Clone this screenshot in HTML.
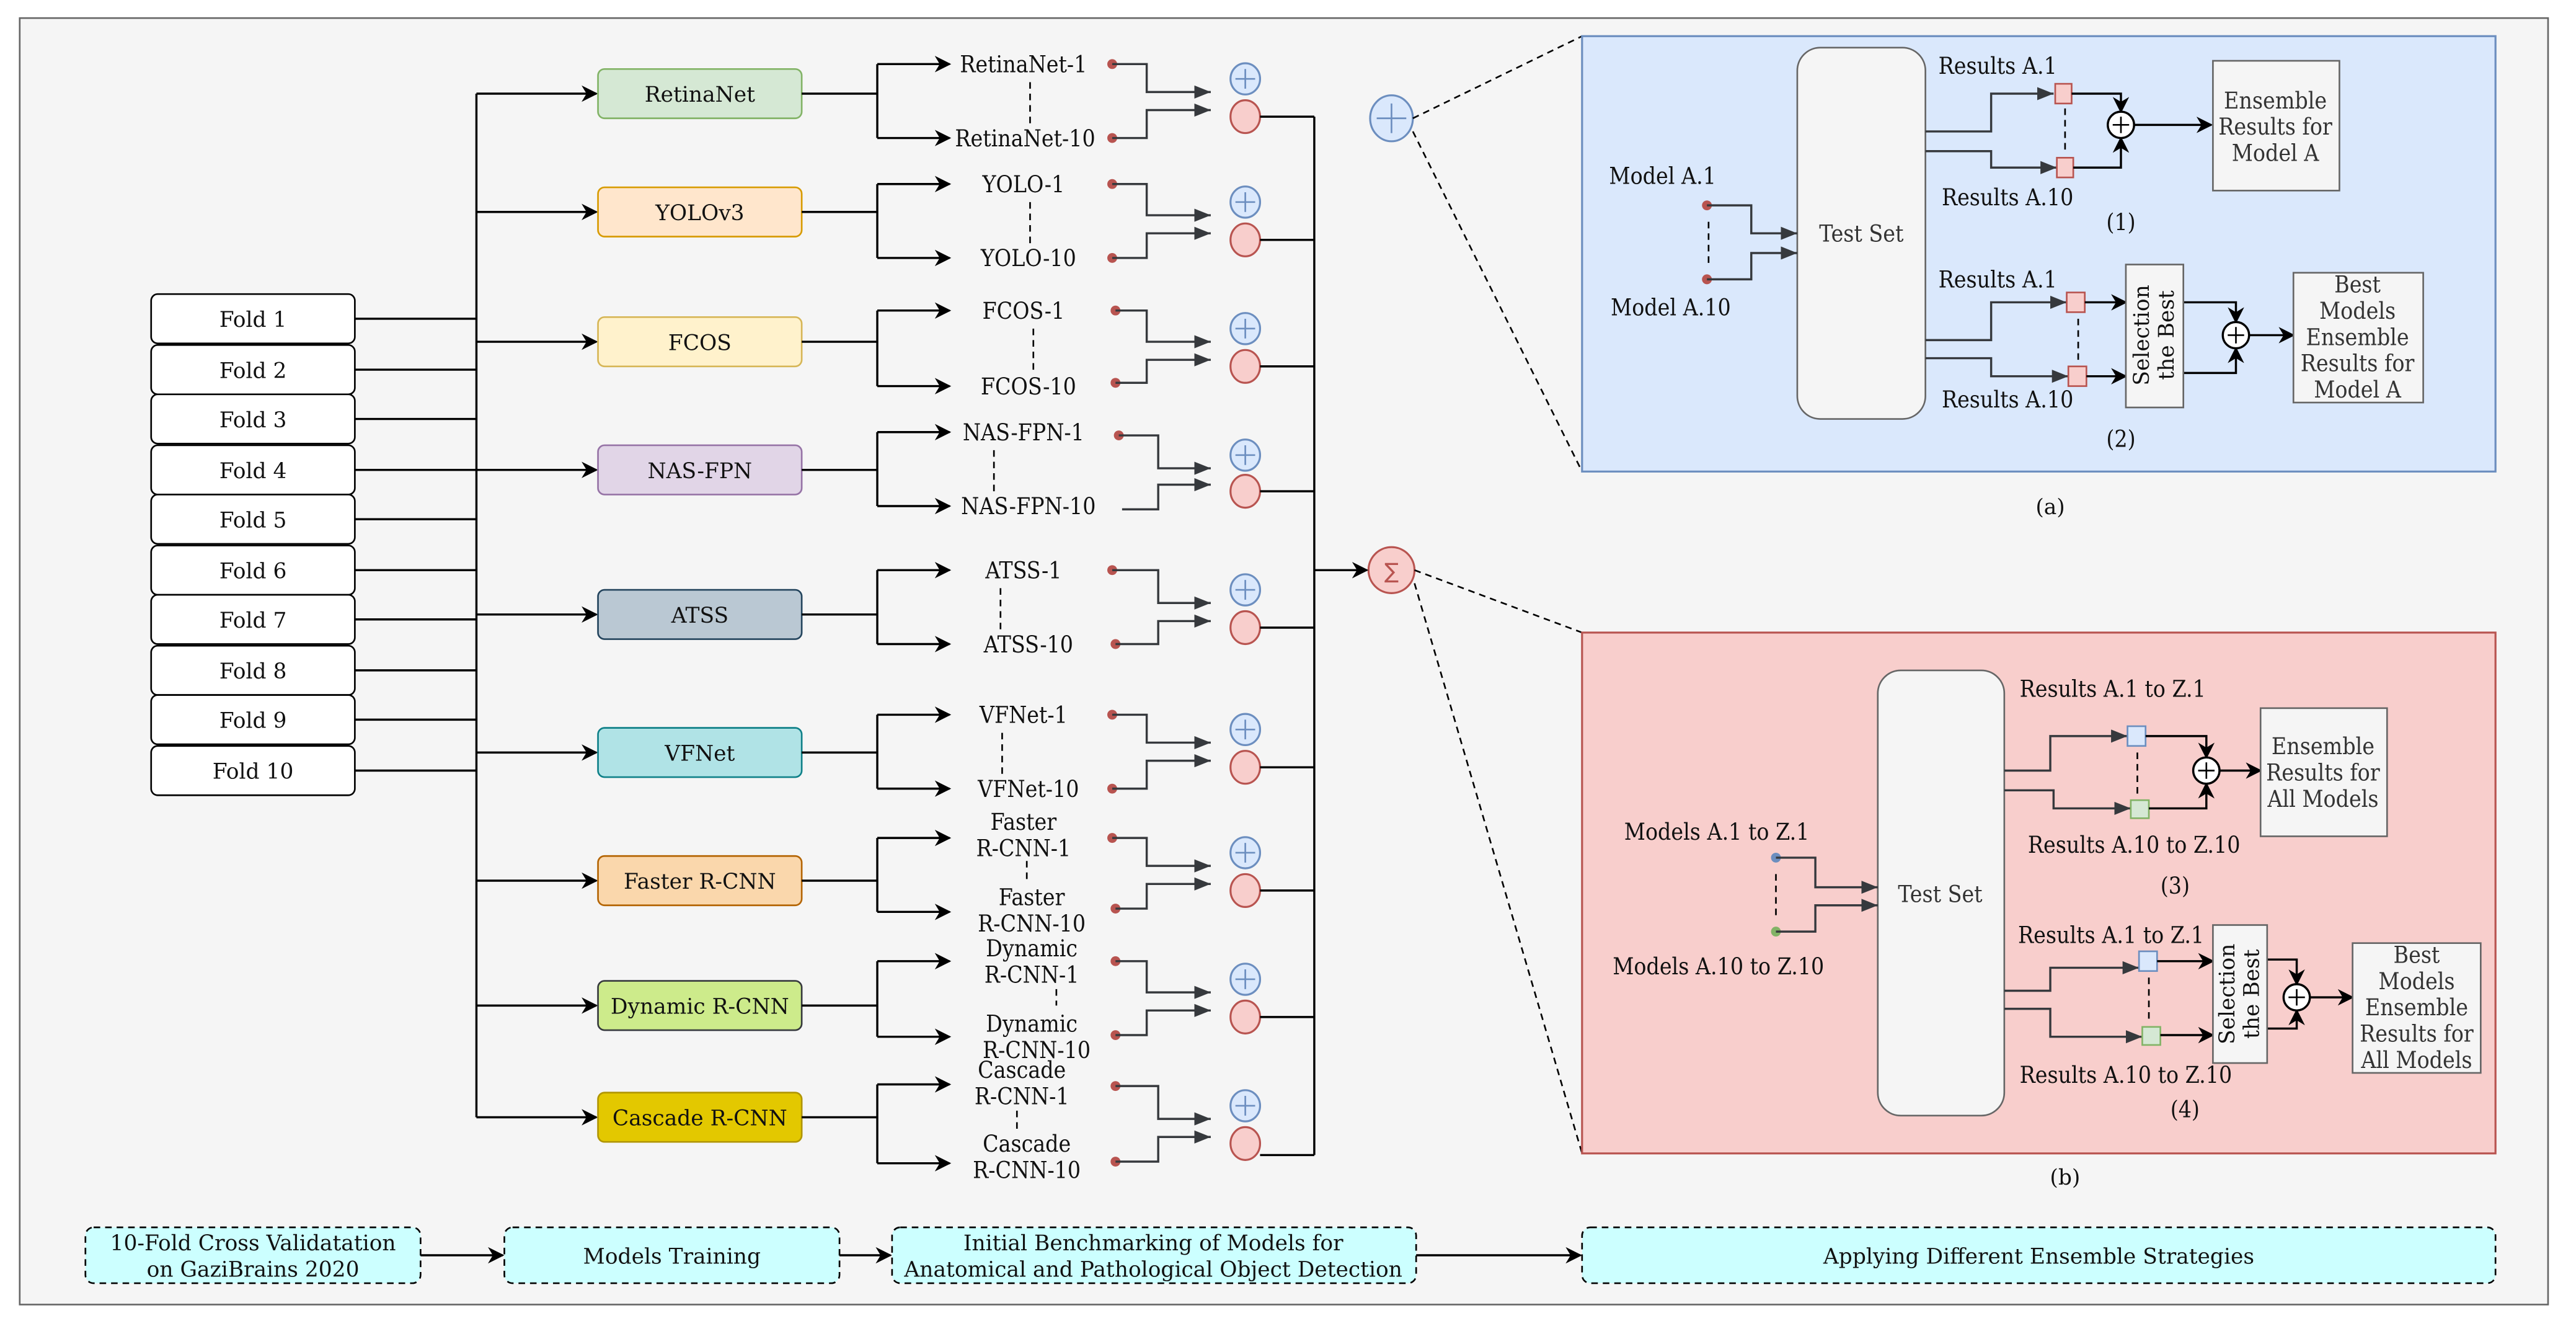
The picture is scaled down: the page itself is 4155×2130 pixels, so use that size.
<!DOCTYPE html>
<html><head><meta charset="utf-8"><style>
html,body{margin:0;padding:0;background:#fff;width:4155px;height:2130px;overflow:hidden}
svg{display:block}
.t{font-family:"DejaVu Serif","Liberation Serif",serif;font-size:14px;fill:#111;font-stretch:condensed;text-anchor:middle}
.n{font-size:13px;font-stretch:normal}
.s{font-family:"DejaVu Serif","Liberation Serif",serif;font-size:13px;fill:#111;text-anchor:middle}
.g{fill:#333}
.k{fill:none;stroke:#000;stroke-width:1.3}
.d{fill:none;stroke:#36393d;stroke-width:1.3}
.ds{fill:none;stroke:#000;stroke-width:1;stroke-dasharray:4 3}
</style></head><body>
<svg width="4155" height="2130" viewBox="0 0 1568 804" preserveAspectRatio="none" xmlns="http://www.w3.org/2000/svg">
<defs>
<marker id="ak" markerWidth="10" markerHeight="10" refX="9" refY="5" orient="auto" markerUnits="userSpaceOnUse"><path d="M0,0 L10,5 L0,10 L3,5z" fill="#000"/></marker>
<marker id="ad" markerWidth="10" markerHeight="8" refX="10" refY="4" orient="auto" markerUnits="userSpaceOnUse"><path d="M0,0 L10,4 L0,8z" fill="#36393d"/></marker>
</defs>
<rect x="12" y="11" width="1539" height="783" fill="#f5f5f5" stroke="#666"/>

<!-- folds -->
<g fill="#fff" stroke="#000" stroke-width="1">
<rect x="92" y="179" width="124" height="30" rx="4"/><rect x="92" y="210" width="124" height="30" rx="4"/>
<rect x="92" y="240" width="124" height="30" rx="4"/><rect x="92" y="271" width="124" height="30" rx="4"/>
<rect x="92" y="301" width="124" height="30" rx="4"/><rect x="92" y="332" width="124" height="30" rx="4"/>
<rect x="92" y="362" width="124" height="30" rx="4"/><rect x="92" y="393" width="124" height="30" rx="4"/>
<rect x="92" y="423" width="124" height="30" rx="4"/><rect x="92" y="454" width="124" height="30" rx="4"/>
</g>
<g class="t n">
<text x="154" y="199">Fold 1</text><text x="154" y="230">Fold 2</text><text x="154" y="260">Fold 3</text>
<text x="154" y="291">Fold 4</text><text x="154" y="321">Fold 5</text><text x="154" y="352">Fold 6</text>
<text x="154" y="382">Fold 7</text><text x="154" y="413">Fold 8</text><text x="154" y="443">Fold 9</text>
<text x="154" y="474">Fold 10</text>
</g>
<path class="k" d="M216,194H290M216,225H290M216,255H290M216,286H290M216,316H290M216,347H290M216,377H290M216,408H290M216,438H290M216,469H290M290,57V680"/>
<g class="k" marker-end="url(#ak)">
<path d="M290,57H363"/><path d="M290,129H363"/><path d="M290,208H363"/><path d="M290,286H363"/><path d="M290,374H363"/><path d="M290,458H363"/><path d="M290,536H363"/><path d="M290,612H363"/><path d="M290,680H363"/>
</g>

<!-- model boxes -->
<rect x="364" y="42" width="124" height="30" rx="4" fill="#d5e8d4" stroke="#82b366"/>
<rect x="364" y="114" width="124" height="30" rx="4" fill="#ffe6cc" stroke="#d79b00"/>
<rect x="364" y="193" width="124" height="30" rx="4" fill="#fff2cc" stroke="#d6b656"/>
<rect x="364" y="271" width="124" height="30" rx="4" fill="#e1d5e7" stroke="#9673a6"/>
<rect x="364" y="359" width="124" height="30" rx="4" fill="#bac8d3" stroke="#23445d"/>
<rect x="364" y="443" width="124" height="30" rx="4" fill="#b0e3e6" stroke="#0e8088"/>
<rect x="364" y="521" width="124" height="30" rx="4" fill="#fad7ac" stroke="#b46504"/>
<rect x="364" y="597" width="124" height="30" rx="4" fill="#cdeb8b" stroke="#36393d"/>
<rect x="364" y="665" width="124" height="30" rx="4" fill="#e3c800" stroke="#b09500"/>
<g class="s">
<text x="426" y="62">RetinaNet</text><text x="426" y="134">YOLOv3</text><text x="426" y="213">FCOS</text>
<text x="426" y="291">NAS-FPN</text><text x="426" y="379">ATSS</text><text x="426" y="463">VFNet</text>
<text x="426" y="541">Faster R-CNN</text><text x="426" y="617">Dynamic R-CNN</text><text x="426" y="685">Cascade R-CNN</text>
</g>

<!-- splits -->
<path class="k" d="M488,57H534M534,39V84M488,129H534M534,112V157M488,208H534M534,189V235M488,286H534M534,263V308M488,374H534M534,347V392M488,458H534M534,435V480M488,536H534M534,510V555M488,612H534M534,585V631M488,680H534M534,660V708"/>
<g class="k" marker-end="url(#ak)">
<path d="M534,39H578"/><path d="M534,84H578"/><path d="M534,112H578"/><path d="M534,157H578"/>
<path d="M534,189H578"/><path d="M534,235H578"/><path d="M534,263H578"/><path d="M534,308H578"/>
<path d="M534,347H578"/><path d="M534,392H578"/><path d="M534,435H578"/><path d="M534,480H578"/>
<path d="M534,510H578"/><path d="M534,555H578"/><path d="M534,585H578"/><path d="M534,631H578"/>
<path d="M534,660H578"/><path d="M534,708H578"/>
</g>
<g class="t">
<text x="623" y="44">RetinaNet-1</text><text x="624" y="89">RetinaNet-10</text>
<text x="623" y="117">YOLO-1</text><text x="626" y="162">YOLO-10</text>
<text x="623" y="194">FCOS-1</text><text x="626" y="240">FCOS-10</text>
<text x="623" y="268">NAS-FPN-1</text><text x="626" y="313">NAS-FPN-10</text>
<text x="623" y="352">ATSS-1</text><text x="626" y="397">ATSS-10</text>
<text x="623" y="440">VFNet-1</text><text x="626" y="485">VFNet-10</text>
<text x="623" y="505">Faster</text><text x="623" y="521">R-CNN-1</text>
<text x="628" y="551">Faster</text><text x="628" y="567">R-CNN-10</text>
<text x="628" y="582">Dynamic</text><text x="628" y="598">R-CNN-1</text>
<text x="628" y="628">Dynamic</text><text x="631" y="644">R-CNN-10</text>
<text x="622" y="656">Cascade</text><text x="622" y="672">R-CNN-1</text>
<text x="625" y="701">Cascade</text><text x="625" y="717">R-CNN-10</text>
</g>
<path class="ds" d="M627,50V75M627,123V148M629,200V226M605,274V299M609,358V383M610,446V471M625,524V536M643,602V612M619,676V690"/>

<!-- dots and connectors -->
<g fill="#b85450">
<circle cx="677" cy="39" r="3"/><circle cx="677" cy="84" r="3"/><circle cx="677" cy="112" r="3"/><circle cx="677" cy="157" r="3"/>
<circle cx="679" cy="189" r="3"/><circle cx="679" cy="233" r="3"/><circle cx="681" cy="265" r="3"/>
<circle cx="677" cy="347" r="3"/><circle cx="679" cy="392" r="3"/><circle cx="677" cy="435" r="3"/><circle cx="677" cy="480" r="3"/>
<circle cx="677" cy="510" r="3"/><circle cx="679" cy="553" r="3"/><circle cx="679" cy="585" r="3"/><circle cx="679" cy="630" r="3"/>
<circle cx="679" cy="661" r="3"/><circle cx="679" cy="707" r="3"/>
</g>
<g class="d" marker-end="url(#ad)">
<path d="M677,39H698V56H737"/><path d="M677,84H698V67H737"/>
<path d="M677,112H698V131H737"/><path d="M677,157H698V142H737"/>
<path d="M679,189H698V208H737"/><path d="M679,233H698V219H737"/>
<path d="M681,265H705V285H737"/><path d="M683,310H705V295H737"/>
<path d="M677,347H705V367H737"/><path d="M679,392H705V378H737"/>
<path d="M677,435H698V452H737"/><path d="M677,480H698V463H737"/>
<path d="M677,510H698V527H737"/><path d="M679,553H698V538H737"/>
<path d="M679,585H698V604H737"/><path d="M679,630H698V615H737"/>
<path d="M679,661H705V681H737"/><path d="M679,707H705V692H737"/>
</g>
<!-- circles -->
<g fill="#dae8fc" stroke="#6c8ebf" stroke-width="1.2">
<ellipse cx="758" cy="48" rx="9" ry="9.5"/><ellipse cx="758" cy="123" rx="9" ry="9.5"/><ellipse cx="758" cy="200" rx="9" ry="9.5"/>
<ellipse cx="758" cy="277" rx="9" ry="9.5"/><ellipse cx="758" cy="359" rx="9" ry="9.5"/><ellipse cx="758" cy="444" rx="9" ry="9.5"/>
<ellipse cx="758" cy="519" rx="9" ry="9.5"/><ellipse cx="758" cy="596" rx="9" ry="9.5"/><ellipse cx="758" cy="673" rx="9" ry="9.5"/>
<ellipse cx="847" cy="72" rx="13" ry="14"/>
</g>
<g stroke="#6c8ebf" stroke-width="1">
<path d="M752,48H764M758,42V54M752,123H764M758,117V129M752,200H764M758,194V206M752,277H764M758,271V283M752,359H764M758,353V365M752,444H764M758,438V450M752,519H764M758,513V525M752,596H764M758,590V602M752,673H764M758,667V679M838,72H856M847,63V81"/>
</g>
<g fill="#f8cecc" stroke="#b85450" stroke-width="1.2">
<ellipse cx="758" cy="71" rx="9" ry="10"/><ellipse cx="758" cy="146" rx="9" ry="10"/><ellipse cx="758" cy="223" rx="9" ry="10"/>
<ellipse cx="758" cy="299" rx="9" ry="10"/><ellipse cx="758" cy="382" rx="9" ry="10"/><ellipse cx="758" cy="467" rx="9" ry="10"/>
<ellipse cx="758" cy="542" rx="9" ry="10"/><ellipse cx="758" cy="619" rx="9" ry="10"/><ellipse cx="758" cy="696" rx="9" ry="10"/>
<ellipse cx="847" cy="347" rx="14" ry="14"/>
</g>
<text x="847" y="352" style="font-family:'DejaVu Sans',sans-serif;font-size:13px;fill:#b85450;text-anchor:middle">∑</text>
<path class="k" d="M767,71H800M767,146H800M767,223H800M767,299H800M767,382H800M767,467H800M767,542H800M767,619H800M767,703H800M800,71V703"/>
<path class="k" d="M800,347H832" marker-end="url(#ak)"/>
<path class="ds" d="M860,72L963,22M860,80L963,287M861,347L963,385M861,355L963,702"/>

<!-- panel a -->
<rect x="963" y="22" width="556" height="265" fill="#dae8fc" stroke="#6c8ebf" stroke-width="1.2"/>
<rect x="1094" y="29" width="78" height="226" rx="14" fill="#f5f5f5" stroke="#666"/>
<text class="t g" x="1133" y="147">Test Set</text>
<text class="t" x="1012" y="112">Model A.1</text><text class="t" x="1017" y="192">Model A.10</text>
<circle cx="1039" cy="125" r="3" fill="#b85450"/><circle cx="1039" cy="170" r="3" fill="#b85450"/>
<path class="ds" d="M1040,135V160"/>
<g class="d" marker-end="url(#ad)"><path d="M1039,125H1066V142H1094"/><path d="M1039,170H1066V154H1094"/>
<path d="M1172,80H1212V57H1250"/><path d="M1172,92H1212V102H1252"/>
<path d="M1172,207H1212V184H1258"/><path d="M1172,218H1212V229H1259"/></g>
<g fill="#f8cecc" stroke="#b85450"><rect x="1251" y="51" width="10" height="12"/><rect x="1252" y="96" width="10" height="12"/>
<rect x="1258" y="178" width="11" height="12"/><rect x="1259" y="223" width="11" height="12"/></g>
<path class="ds" d="M1257,66V92M1265,194V220"/>
<g class="k" marker-end="url(#ak)"><path d="M1261,57H1291V68"/><path d="M1262,102H1291V84"/><path d="M1299,76H1346"/>
<path d="M1269,184H1294"/><path d="M1270,229H1294"/><path d="M1329,184H1361V196"/><path d="M1329,227H1361V212"/><path d="M1369,204H1396"/></g>
<circle cx="1291" cy="76" r="8" fill="#fff" stroke="#000" stroke-width="1.3"/><path d="M1286,76H1296M1291,71V81" stroke="#000"/>
<circle cx="1361" cy="204" r="8" fill="#fff" stroke="#000" stroke-width="1.3"/><path d="M1356,204H1366M1361,199V209" stroke="#000"/>
<text class="t" x="1216" y="45">Results A.1</text><text class="t" x="1222" y="125">Results A.10</text><text class="t" x="1291" y="140">(1)</text>
<rect x="1347" y="37" width="77" height="79" fill="#f5f5f5" stroke="#666"/>
<g class="t g"><text x="1385" y="66">Ensemble</text><text x="1385" y="82">Results for</text><text x="1385" y="98">Model A</text></g>
<rect x="1294" y="161" width="35" height="87" fill="#f5f5f5" stroke="#666"/>
<g transform="translate(1311,204) rotate(-90)" class="t n"><text x="0" y="-3">Selection</text><text x="0" y="12">the  Best</text></g>
<text class="t" x="1216" y="175">Results A.1</text><text class="t" x="1222" y="248">Results A.10</text><text class="t" x="1291" y="272">(2)</text>
<rect x="1396" y="166" width="79" height="79" fill="#f5f5f5" stroke="#666"/>
<g class="t g"><text x="1435" y="178">Best</text><text x="1435" y="194">Models</text><text x="1435" y="210">Ensemble</text><text x="1435" y="226">Results for</text><text x="1435" y="242">Model A</text></g>
<text class="t n" x="1248" y="313">(a)</text>

<!-- panel b -->
<rect x="963" y="385" width="556" height="317" fill="#f8cecc" stroke="#b85450" stroke-width="1.2"/>
<rect x="1143" y="408" width="77" height="271" rx="14" fill="#f5f5f5" stroke="#666"/>
<text class="t g" x="1181" y="549">Test Set</text>
<text class="t" x="1045" y="511">Models A.1 to Z.1</text><text class="t" x="1046" y="593">Models A.10 to Z.10</text>
<circle cx="1081" cy="522" r="3" fill="#6c8ebf"/><circle cx="1081" cy="567" r="3" fill="#82b366"/>
<path class="ds" d="M1081,532V558"/>
<g class="d" marker-end="url(#ad)"><path d="M1081,522H1105V540H1143"/><path d="M1081,567H1105V551H1143"/>
<path d="M1220,469H1248V448H1295"/><path d="M1220,481H1250V492H1297"/>
<path d="M1220,603H1248V589H1302"/><path d="M1220,614H1248V631H1304"/></g>
<g fill="#dae8fc" stroke="#6c8ebf"><rect x="1295" y="442" width="11" height="12"/><rect x="1302" y="579" width="11" height="12"/></g>
<g fill="#d5e8d4" stroke="#82b366"><rect x="1297" y="487" width="11" height="11"/><rect x="1304" y="625" width="11" height="11"/></g>
<path class="ds" d="M1301,458V484M1308,595V622"/>
<g class="k" marker-end="url(#ak)"><path d="M1306,448H1343V461"/><path d="M1308,492H1343V477"/><path d="M1351,469H1376"/>
<path d="M1313,585H1347"/><path d="M1315,630H1347"/><path d="M1380,584H1398V599"/><path d="M1380,626H1398V615"/><path d="M1406,607H1432"/></g>
<circle cx="1343" cy="469" r="8" fill="#fff" stroke="#000" stroke-width="1.3"/><path d="M1338,469H1348M1343,464V474" stroke="#000"/>
<circle cx="1398" cy="607" r="8" fill="#fff" stroke="#000" stroke-width="1.3"/><path d="M1393,607H1403M1398,602V612" stroke="#000"/>
<text class="t" x="1286" y="424">Results A.1 to Z.1</text><text class="t" x="1299" y="519">Results A.10 to Z.10</text><text class="t" x="1324" y="544">(3)</text>
<rect x="1376" y="431" width="77" height="78" fill="#f5f5f5" stroke="#666"/>
<g class="t g"><text x="1414" y="459">Ensemble</text><text x="1414" y="475">Results for</text><text x="1414" y="491">All Models</text></g>
<rect x="1347" y="563" width="33" height="84" fill="#f5f5f5" stroke="#666"/>
<g transform="translate(1363,605) rotate(-90)" class="t n"><text x="0" y="-3">Selection</text><text x="0" y="12">the  Best</text></g>
<text class="t" x="1285" y="574">Results A.1 to Z.1</text><text class="t" x="1294" y="659">Results A.10 to Z.10</text><text class="t" x="1330" y="680">(4)</text>
<rect x="1432" y="574" width="78" height="79" fill="#f5f5f5" stroke="#666"/>
<g class="t g"><text x="1471" y="586">Best</text><text x="1471" y="602">Models</text><text x="1471" y="618">Ensemble</text><text x="1471" y="634">Results for</text><text x="1471" y="650">All Models</text></g>
<text class="t n" x="1257" y="721">(b)</text>

<!-- bottom row -->
<g fill="#ccffff" stroke="#000" stroke-dasharray="4 3">
<rect x="52" y="747" width="204" height="34" rx="5"/><rect x="307" y="747" width="204" height="34" rx="5"/>
<rect x="543" y="747" width="319" height="34" rx="5"/><rect x="963" y="747" width="556" height="34" rx="5"/>
</g>
<g class="t n">
<text x="154" y="761">10-Fold Cross Validatation</text><text x="154" y="777">on GaziBrains 2020</text>
<text x="409" y="769">Models Training</text>
<text x="702" y="761">Initial Benchmarking of Models for</text><text x="702" y="777">Anatomical and Pathological Object Detection</text>
<text x="1241" y="769">Applying Different Ensemble Strategies</text>
</g>
<g class="k" marker-end="url(#ak)"><path d="M256,764H306"/><path d="M511,764H542"/><path d="M862,764H962"/></g>
</svg>
</body></html>
